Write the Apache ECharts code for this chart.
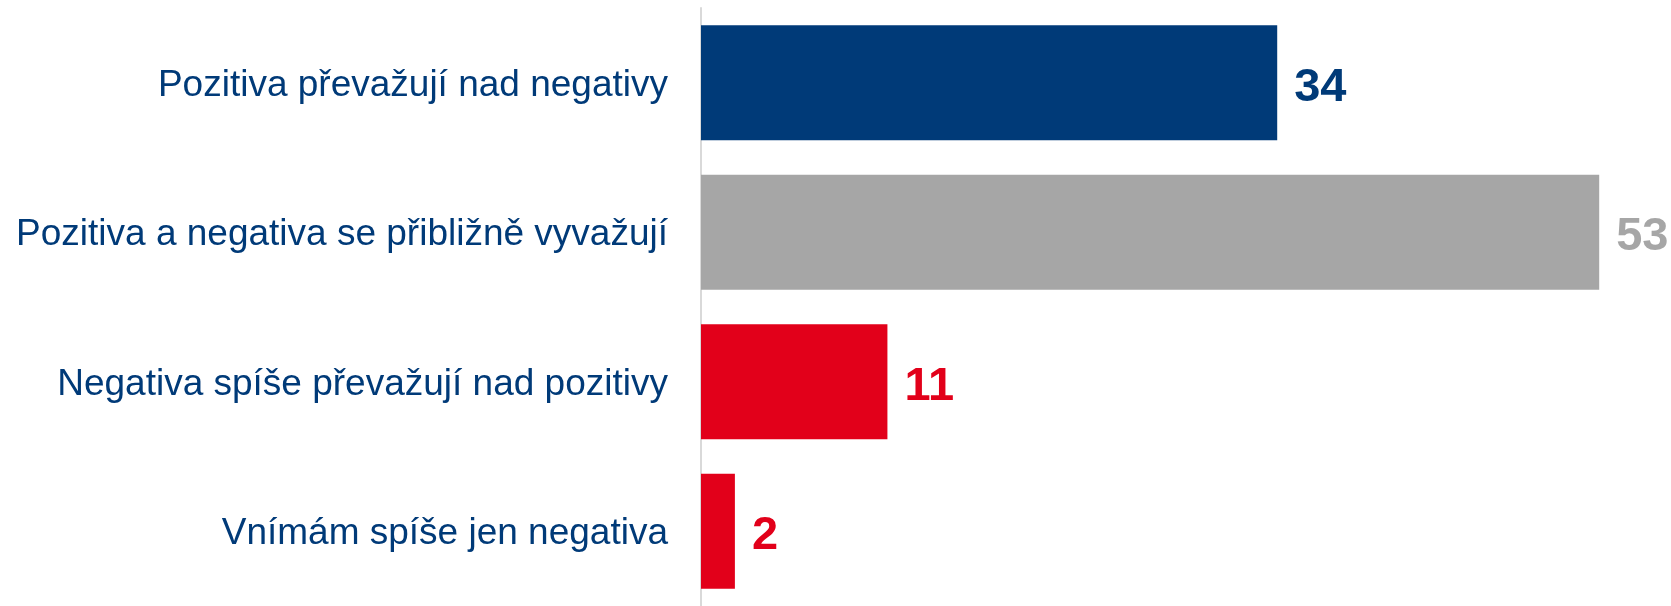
<!DOCTYPE html>
<html>
<head>
<meta charset="utf-8">
<title>Pozitiva a negativa</title>
<style>
  html, body { margin:0; padding:0; background:#fff; }
  #chart { width:1671px; height:606px; }
</style>
</head>
<body>
<div id="chart"></div>
<script src="https://cdn.jsdelivr.net/npm/echarts@6/dist/echarts.min.js"></script>
<script type="text/javascript">
// kategorie (shora dolu)
var categories = [
  'Pozitiva převažují nad negativy',
  'Pozitiva a negativa se přibližně vyvažují',
  'Negativa spíše převažují nad pozitivy',
  'Vnímám spíše jen negativa'
];
// hodnoty v %
var values = [34, 53, 11, 2];
// barvy sloupcu
var barColors = ['#003a78', '#a6a6a6', '#e2001a', '#e2001a'];

var chart = echarts.init(document.getElementById('chart'));

var seriesData = [];
for (var i = 0; i < values.length; i++) {
  seriesData.push({
    value: values[i],
    itemStyle: { color: barColors[i] },
    label: { color: barColors[i] }
  });
}

var option = {
  animation: false,
  backgroundColor: '#fff',
  grid: { left: 701, right: 4, top: 8, bottom: -2, containLabel: false },
  xAxis: {
    type: 'value',
    min: 0,
    max: 57,
    show: false
  },
  yAxis: {
    type: 'category',
    data: categories,
    inverse: true,
    axisTick: { show: false },
    axisLine: { show: true, lineStyle: { color: '#d9d9d9', width: 2 } },
    axisLabel: {
      margin: 33,
      // rich text kvuli posunu o par px dolu
      formatter: function (v) { return '{t|' + v + '}'; },
      rich: {
        t: {
          color: '#003a78',
          fontFamily: 'Liberation Sans, Arial, sans-serif',
          fontSize: 37,
          padding: [6, 0, 0, 0]
        }
      }
    }
  },
  series: [{
    type: 'bar',
    data: seriesData,
    barWidth: 115,
    label: {
      show: true,
      position: 'right',
      distance: 17,
      offset: [0, 5],
      fontFamily: 'Liberation Sans, Arial, sans-serif',
      fontWeight: 'bold',
      fontSize: 47
    }
  }]
};

chart.setOption(option);
</script>
</body>
</html>
